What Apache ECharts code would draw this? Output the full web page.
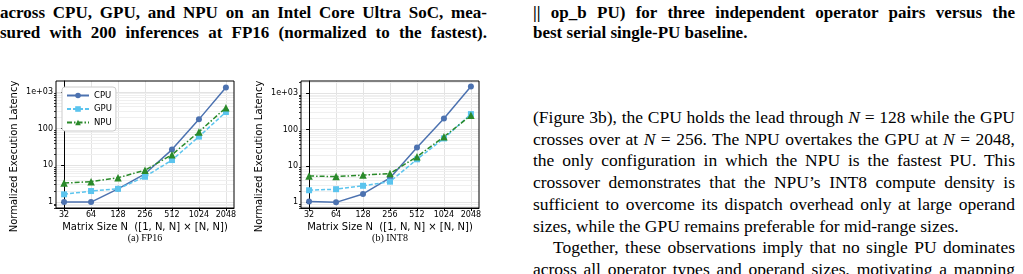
<!DOCTYPE html>
<html>
<head>
<meta charset="utf-8">
<script src="https://cdn.jsdelivr.net/npm/echarts@6/dist/echarts.min.js"></script>
<style>
html, body { margin: 0; padding: 0; background: #fff; }
body { position: relative; width: 1023px; height: 274px; overflow: hidden; }
#fig { position: absolute; left: 0; top: 0; width: 500px; height: 274px; }
.txt { position: absolute; font-family: "Liberation Serif", serif; color: #000; }
.txt div { white-space: nowrap; }
.j { text-align: justify; text-align-last: justify; }
.cap { font-weight: bold; font-size: 17px; line-height: 20px; top: 3px; }
.body { font-size: 17.5px; line-height: 21.7px; top: 107px; left: 533px; width: 482px; }
.ind { padding-left: 20px; }
</style>
</head>
<body>
<div class="txt cap" style="left:0;width:487px">
  <div class="j">across CPU, GPU, and NPU on an Intel Core Ultra SoC, mea-</div>
  <div class="j">sured with 200 inferences at FP16 (normalized to the fastest).</div>
</div>
<div class="txt cap" style="left:533px;width:482px">
  <div class="j">|| op_b PU) for three independent operator pairs versus the</div>
  <div>best serial single-PU baseline.</div>
</div>
<div class="txt body">
  <div class="j">(Figure 3b), the CPU holds the lead through <i>N</i> = 128 while the GPU</div>
  <div class="j">crosses over at <i>N</i> = 256. The NPU overtakes the GPU at <i>N</i> = 2048,</div>
  <div class="j">the only configuration in which the NPU is the fastest PU. This</div>
  <div class="j">crossover demonstrates that the NPU’s INT8 compute density is</div>
  <div class="j">sufficient to overcome its dispatch overhead only at large operand</div>
  <div>sizes, while the GPU remains preferable for mid-range sizes.</div>
  <div class="j ind">Together, these observations imply that no single PU dominates</div>
  <div class="j">across all operator types and operand sizes, motivating a mapping</div>
</div>
<div id="fig"></div>
<script>
var sizes = ['32', '64', '128', '256', '512', '1024', '2048'];

// (a) FP16
var fp16Cpu = [1, 1, 2.3, 5.9, 27, 180, 1330];
var fp16Gpu = [1.63, 2.0, 2.3, 4.9, 14, 61, 285];
var fp16Npu = [3.3, 3.6, 4.6, 7.4, 19.6, 82, 375];

// (b) INT8
var int8Cpu = [1.05, 1.0, 1.7, 4.7, 32, 200, 1520];
var int8Gpu = [2.15, 2.3, 2.85, 3.7, 15.2, 57, 265];
var int8Npu = [5.3, 5.1, 5.6, 6.2, 18, 63, 245];

var yTicks = [1, 10, 100, 1000];
var yTickLabels = ['1', '10', '100', '1e+03'];

var colCpu = '#4C72B0', colGpu = '#5BC4EE', colNpu = '#2A8A2A';
var font = 'DejaVu Sans';

var panels = [
  { cpu: fp16Cpu, gpu: fp16Gpu, npu: fp16Npu, left: 56, min: 0.69, max: 2000, caption: '(a) FP16', cx: 145 },
  { cpu: int8Cpu, gpu: int8Gpu, npu: int8Npu, left: 301, min: 0.70, max: 2150, caption: '(b) INT8', cx: 390 }
];

function minorValues(lo, hi) {
  var out = [];
  for (var d = -1; d <= 3; d++) {
    for (var m = 2; m <= 9; m++) {
      var v = m * Math.pow(10, d);
      if (v > lo && v < hi) out.push(v);
    }
  }
  return out;
}

function pts(arr) {
  return arr.map(function (v, i) { return [i, v]; });
}

var grids = [], xAxes = [], yAxes = [], series = [], graphics = [];
var idx = sizes.map(function (s, i) { return i; });

panels.forEach(function (p, i) {
  var minors = minorValues(p.min, p.max);
  grids.push({ left: p.left, top: 81, width: 178, height: 127, show: true, borderColor: '#000', borderWidth: 1, z: 1 });
  xAxes.push({
    type: 'value', gridIndex: i, min: -0.3, max: 6.3,
    name: 'Matrix Size N  ([1, N, N] \u00d7 [N, N])', nameLocation: 'middle', nameGap: 14,
    nameTextStyle: { fontFamily: font, fontSize: 10, color: '#000' },
    axisLine: { show: true, lineStyle: { color: '#000', width: 1 } },
    axisTick: { show: true, length: 3, customValues: idx, lineStyle: { color: '#000' } },
    axisLabel: {
      customValues: idx, margin: 3, fontFamily: font, fontSize: 8, color: '#000',
      formatter: function (v) { return sizes[Math.round(v)] || ''; }
    },
    splitLine: { show: true, lineStyle: { color: '#e3e3e3', width: 1 } }
  });
  yAxes.push({
    type: 'log', logBase: 10, gridIndex: i, min: p.min, max: p.max,
    name: 'Normalized Execution Latency', nameLocation: 'middle', nameGap: 37,
    // label sits a little below the plot centre in the original
    nameTextStyle: { fontFamily: font, fontSize: 10, color: '#000', padding: [0, 24, 0, 0] },
    axisLine: { show: true, lineStyle: { color: '#000', width: 1 } },
    axisTick: { show: true, length: 3, customValues: yTicks, lineStyle: { color: '#000' } },
    axisLabel: {
      customValues: yTicks, margin: 3, fontFamily: font, fontSize: 8, color: '#000',
      formatter: function (v) {
        for (var k = 0; k < yTicks.length; k++) {
          if (Math.abs(yTicks[k] - v) / yTicks[k] < 1e-6) return yTickLabels[k];
        }
        return '';
      }
    },
    splitLine: { show: true, lineStyle: { color: '#e3e3e3', width: 1 } }
  });
  // minor ticks on the left spine
  yAxes.push({
    type: 'log', logBase: 10, gridIndex: i, min: p.min, max: p.max, position: 'left',
    axisLine: { show: false },
    axisTick: { show: true, length: 2, customValues: minors, lineStyle: { color: '#000', width: 0.8 } },
    axisLabel: { show: false },
    splitLine: { show: false }
  });

  var yi = i * 2;
  // minor grid lines, kept under the data
  series.push({
    type: 'line', xAxisIndex: i, yAxisIndex: yi, data: [], z: 0, silent: true,
    markLine: {
      z: 0, silent: true, symbol: 'none', animation: false, label: { show: false },
      lineStyle: { color: '#efefef', width: 1, type: 'solid' },
      data: minors.map(function (v) { return { yAxis: v }; })
    }
  });
  series.push({
    name: 'CPU', type: 'line', xAxisIndex: i, yAxisIndex: yi, data: pts(p.cpu), z: 3,
    symbol: 'circle', symbolSize: 6, itemStyle: { color: colCpu },
    lineStyle: { color: colCpu, width: 1.5 }
  });
  series.push({
    name: 'GPU', type: 'line', xAxisIndex: i, yAxisIndex: yi, data: pts(p.gpu), z: 3,
    symbol: 'rect', symbolSize: 6, itemStyle: { color: colGpu },
    lineStyle: { color: colGpu, width: 1.5, type: [4, 2] }
  });
  series.push({
    name: 'NPU', type: 'line', xAxisIndex: i, yAxisIndex: yi, data: pts(p.npu), z: 3,
    symbol: 'triangle', symbolSize: 7.5, itemStyle: { color: colNpu },
    lineStyle: { color: colNpu, width: 1.5, type: [5, 2, 1.5, 2] }
  });

  graphics.push({
    type: 'text', x: p.cx, y: 238,
    style: { text: p.caption, align: 'center', verticalAlign: 'middle', font: '10px "Liberation Serif"', fill: '#000' }
  });
});

var chart = echarts.init(document.getElementById('fig'), null, { renderer: 'canvas' });
chart.setOption({
  animation: false,
  legend: {
    data: ['CPU', 'GPU', 'NPU'], orient: 'vertical', left: 62, top: 87, z: 10,
    itemWidth: 22, itemHeight: 7, itemGap: 4.5, padding: [4, 4, 4, 4],
    backgroundColor: '#ffffff', borderColor: '#cccccc', borderWidth: 1, borderRadius: 3,
    textStyle: { fontFamily: font, fontSize: 8.5, color: '#000', lineHeight: 9 }
  },
  grid: grids,
  xAxis: xAxes,
  yAxis: yAxes,
  series: series,
  graphic: graphics
});
</script>
</body>
</html>
